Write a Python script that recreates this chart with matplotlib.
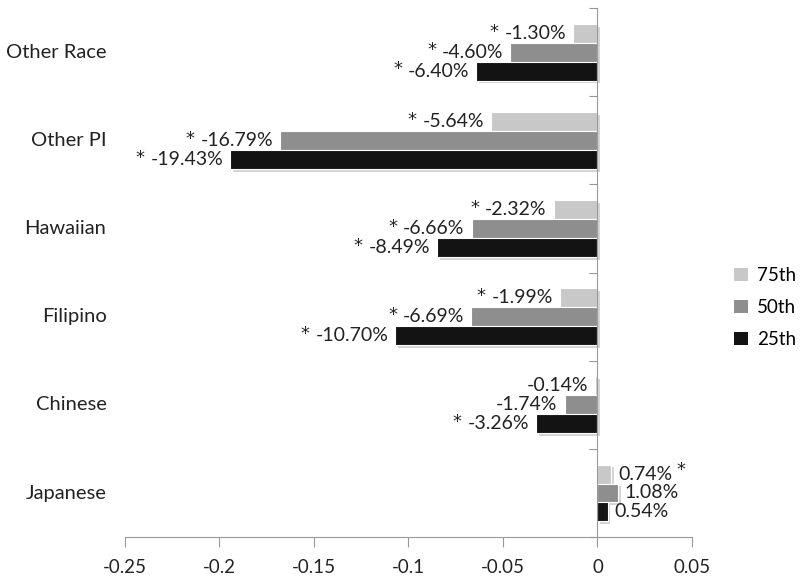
import matplotlib
matplotlib.use('Agg')
import numpy as np
from matplotlib import pyplot as plt
from matplotlib import patheffects
from matplotlib.patches import Patch
from matplotlib.transforms import blended_transform_factory

plt.rcParams['font.family'] = ['Lato', 'DejaVu Sans']

categories = ['Other Race', 'Other PI', 'Hawaiian', 'Filipino', 'Chinese', 'Japanese']
series_names = ['75th', '50th', '25th']
p75 = [-0.0130, -0.0564, -0.0232, -0.0199, -0.0014, 0.0074]
p50 = [-0.0460, -0.1679, -0.0666, -0.0669, -0.0174, 0.0108]
p25 = [-0.0640, -0.1943, -0.0849, -0.1070, -0.0326, 0.0054]
sig75 = [True, True, True, True, False, True]
sig50 = [True, True, True, True, False, False]
sig25 = [True, True, True, True, True, False]
xticks = [-0.25, -0.2, -0.15, -0.1, -0.05, 0, 0.05]
xtick_labels = ['-0.25', '-0.2', '-0.15', '-0.1', '-0.05', '0', '0.05']

colors = ['#c8c8c8', '#8e8e8e', '#131313']
txt_col = '#222222'

fig = plt.figure(figsize=(8, 5.8), dpi=100)
ax = fig.add_axes([0.156, 0.074, 0.709, 0.912])

y = np.arange(len(categories))
bar_h = 0.215
offsets = [-bar_h, 0, bar_h]
shadow = [patheffects.SimplePatchShadow(offset=(2, -2), shadow_rgbFace='#aaaaaa', alpha=0.5),
          patheffects.Normal()]

for vals, sigs, off, col in zip([p75, p50, p25], [sig75, sig50, sig25], offsets, colors):
    bars = ax.barh(y + off, vals, height=bar_h, color=col, edgecolor='white', linewidth=0.8)
    for b in bars:
        b.set_path_effects(shadow)
    for yi, v, s in zip(y, vals, sigs):
        lab = '%.2f%%' % (v * 100)
        if v < 0:
            t = ax.annotate(lab, xy=(v, yi + off), xytext=(-5, 0), textcoords='offset points',
                            ha='right', va='center', fontsize=14, color=txt_col)
            if s:
                ax.annotate('*', xy=(0, 0.6), xycoords=t, xytext=(-4, 0), textcoords='offset points',
                            ha='right', va='center', fontsize=13, color=txt_col, family='DejaVu Sans')
        else:
            t = ax.annotate(lab, xy=(v, yi + off), xytext=(5, 0), textcoords='offset points',
                            ha='left', va='center', fontsize=14, color=txt_col)
            if s:
                ax.annotate('*', xy=(1, 0.75), xycoords=t, xytext=(3, 0), textcoords='offset points',
                            ha='left', va='center', fontsize=13, color=txt_col, family='DejaVu Sans')

ax.set_xlim(-0.25, 0.05)
ax.set_ylim(len(categories) - 0.5, -0.5)
ax.set_xticks(xticks)
ax.set_xticklabels(xtick_labels, fontsize=13.5, color=txt_col)
ax.tick_params(axis='x', direction='out', length=7, color='#999999', pad=9)

ax.spines['left'].set_position(('data', 0))
ax.spines['left'].set_color('#999999')
ax.spines['bottom'].set_color('#999999')
ax.spines['top'].set_visible(False)
ax.spines['right'].set_visible(False)
ax.set_yticks(np.arange(len(categories) + 1) - 0.5)
ax.set_yticklabels([])
ax.tick_params(axis='y', direction='out', length=6, color='#999999')

trans = blended_transform_factory(fig.transFigure, ax.transData)
for yi, name in zip(y, categories):
    fig.text(0.133, yi, name, transform=trans, ha='right', va='center', fontsize=14.5, color=txt_col)

handles = [Patch(facecolor=c) for c in colors]
fig.legend(handles, series_names, loc='center left', bbox_to_anchor=(0.897, 0.47),
           frameon=False, handlelength=0.7, handleheight=0.7, handletextpad=0.5,
           labelspacing=0.8, fontsize=13.5)

fig.savefig('out.png', dpi=100)
